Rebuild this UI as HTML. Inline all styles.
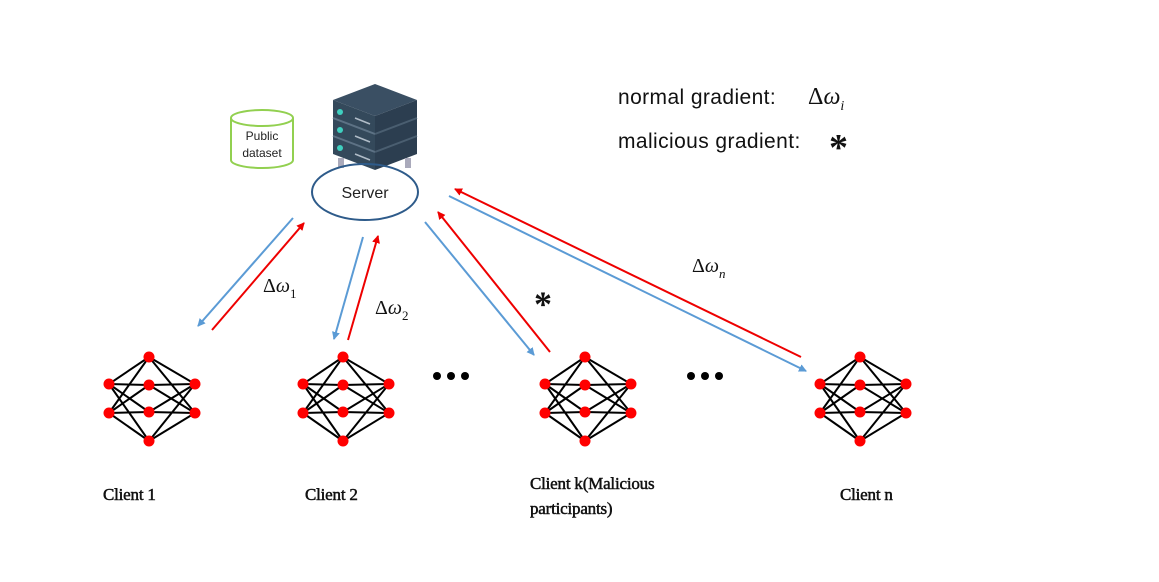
<!DOCTYPE html>
<html><head><meta charset="utf-8"><style>
html,body{margin:0;padding:0;background:#fff;}
svg{display:block;}
</style></head><body>
<svg width="1159" height="582" viewBox="0 0 1159 582" xmlns="http://www.w3.org/2000/svg">
<defs>
<marker id="ab" markerWidth="8" markerHeight="8" refX="7" refY="4" orient="auto" markerUnits="userSpaceOnUse"><path d="M0,0 L8,4 L0,8 z" fill="#5b9bd5"/></marker>
<marker id="ar" markerWidth="8" markerHeight="8" refX="7" refY="4" orient="auto" markerUnits="userSpaceOnUse"><path d="M0,0 L8,4 L0,8 z" fill="#e00"/></marker>
<g id="net">
<g stroke="#000" stroke-width="2">
<line x1="-40" y1="0" x2="0" y2="-27"/><line x1="-40" y1="0" x2="0" y2="1"/><line x1="-40" y1="0" x2="0" y2="28"/><line x1="-40" y1="0" x2="0" y2="57"/>
<line x1="-40" y1="29" x2="0" y2="-27"/><line x1="-40" y1="29" x2="0" y2="1"/><line x1="-40" y1="29" x2="0" y2="28"/><line x1="-40" y1="29" x2="0" y2="57"/>
<line x1="46" y1="0" x2="0" y2="-27"/><line x1="46" y1="0" x2="0" y2="1"/><line x1="46" y1="0" x2="0" y2="28"/><line x1="46" y1="0" x2="0" y2="57"/>
<line x1="46" y1="29" x2="0" y2="-27"/><line x1="46" y1="29" x2="0" y2="1"/><line x1="46" y1="29" x2="0" y2="28"/><line x1="46" y1="29" x2="0" y2="57"/>
</g>
<g fill="#f00">
<circle cx="-40" cy="0" r="5.5"/><circle cx="-40" cy="29" r="5.5"/>
<circle cx="0" cy="-27" r="5.5"/><circle cx="0" cy="1" r="5.5"/><circle cx="0" cy="28" r="5.5"/><circle cx="0" cy="57" r="5.5"/>
<circle cx="46" cy="0" r="5.5"/><circle cx="46" cy="29" r="5.5"/>
</g>
</g>
</defs>

<g fill="#fff" stroke="#92d050" stroke-width="2">
<path d="M231,118 L231,160 A31,8 0 0 0 293,160 L293,118"/>
<ellipse cx="262" cy="118" rx="31" ry="8"/>
</g>
<text x="262" y="140" font-family="Liberation Sans, sans-serif" font-size="12" text-anchor="middle" fill="#222">Public</text>
<text x="262" y="157" font-family="Liberation Sans, sans-serif" font-size="12" text-anchor="middle" fill="#222">dataset</text>

<polygon points="333,100 375,84 417,100 375,116" fill="#3a4f63"/>
<polygon points="333,100 375,116 375,170 333,154" fill="#34495b"/>
<polygon points="375,116 417,100 417,154 375,170" fill="#2c3e50"/>
<line x1="333" y1="118" x2="375" y2="134" stroke="#5d7285" stroke-width="2"/>
<line x1="333" y1="136" x2="375" y2="152" stroke="#5d7285" stroke-width="2"/>
<line x1="375" y1="134" x2="417" y2="118" stroke="#4a5e70" stroke-width="2"/>
<line x1="375" y1="152" x2="417" y2="136" stroke="#4a5e70" stroke-width="2"/>
<circle cx="340" cy="112" r="3" fill="#3fd0c0"/><circle cx="340" cy="130" r="3" fill="#3fd0c0"/><circle cx="340" cy="148" r="3" fill="#3fd0c0"/>
<g stroke="#b0bcc8" stroke-width="1.5">
<line x1="355" y1="118" x2="370" y2="124"/><line x1="355" y1="136" x2="370" y2="142"/><line x1="355" y1="154" x2="370" y2="160"/>
</g>
<rect x="338" y="158" width="6" height="10" fill="#aab"/><rect x="405" y="158" width="6" height="10" fill="#aab"/>

<ellipse cx="365" cy="192" rx="53" ry="28" fill="none" stroke="#2e5b8a" stroke-width="2"/>
<text x="365" y="198" font-family="Liberation Sans, sans-serif" font-size="16" text-anchor="middle" fill="#222">Server</text>

<text x="618" y="104" font-family="Liberation Sans, sans-serif" font-size="21" letter-spacing="0.4" fill="#111">normal gradient:</text>
<text x="808" y="104" font-family="Liberation Serif, serif" font-size="24" fill="#111">Δ<tspan font-style="italic">ω</tspan><tspan font-style="italic" font-size="14" dy="6">i</tspan></text>
<text x="618" y="148" font-family="Liberation Sans, sans-serif" font-size="21" letter-spacing="0.4" fill="#111">malicious gradient:</text>
<text x="829" y="160" font-family="Liberation Serif, serif" font-size="38" font-weight="bold" fill="#111">*</text>

<g stroke-width="2">
<line x1="293" y1="218" x2="198" y2="326" stroke="#5b9bd5" marker-end="url(#ab)"/>
<line x1="212" y1="330" x2="304" y2="223" stroke="#e00" marker-end="url(#ar)"/>
<line x1="363" y1="237" x2="334" y2="339" stroke="#5b9bd5" marker-end="url(#ab)"/>
<line x1="348" y1="340" x2="378" y2="236" stroke="#e00" marker-end="url(#ar)"/>
<line x1="425" y1="222" x2="534" y2="355" stroke="#5b9bd5" marker-end="url(#ab)"/>
<line x1="550" y1="352" x2="438" y2="212" stroke="#e00" marker-end="url(#ar)"/>
<line x1="449" y1="196" x2="806" y2="371" stroke="#5b9bd5" marker-end="url(#ab)"/>
<line x1="801" y1="357" x2="455" y2="189" stroke="#e00" marker-end="url(#ar)"/>
</g>

<g font-family="Liberation Serif, serif" fill="#111">
<text x="263" y="292" font-size="20">Δ<tspan font-style="italic">ω</tspan><tspan font-size="13" dy="6">1</tspan></text>
<text x="375" y="314" font-size="20">Δ<tspan font-style="italic">ω</tspan><tspan font-size="13" dy="6">2</tspan></text>
<text x="692" y="272" font-size="20">Δ<tspan font-style="italic">ω</tspan><tspan font-style="italic" font-size="13" dy="6">n</tspan></text>
<text x="534" y="316" font-size="36" font-weight="bold">*</text>
</g>

<use href="#net" x="149" y="384"/>
<use href="#net" x="343" y="384"/>
<use href="#net" x="585" y="384"/>
<use href="#net" x="860" y="384"/>

<g fill="#000">
<circle cx="437" cy="376" r="4"/><circle cx="451" cy="376" r="4"/><circle cx="465" cy="376" r="4"/>
<circle cx="691" cy="376" r="4"/><circle cx="705" cy="376" r="4"/><circle cx="719" cy="376" r="4"/>
</g>

<g font-family="Liberation Serif, serif" font-size="17" fill="#111" stroke="#111" stroke-width="0.5" letter-spacing="-0.2">
<text x="103" y="500">Client 1</text>
<text x="305" y="500">Client 2</text>
<text x="530" y="489">Client k(Malicious</text>
<text x="530" y="514">participants)</text>
<text x="840" y="500">Client n</text>
</g>
</svg>
</body></html>
